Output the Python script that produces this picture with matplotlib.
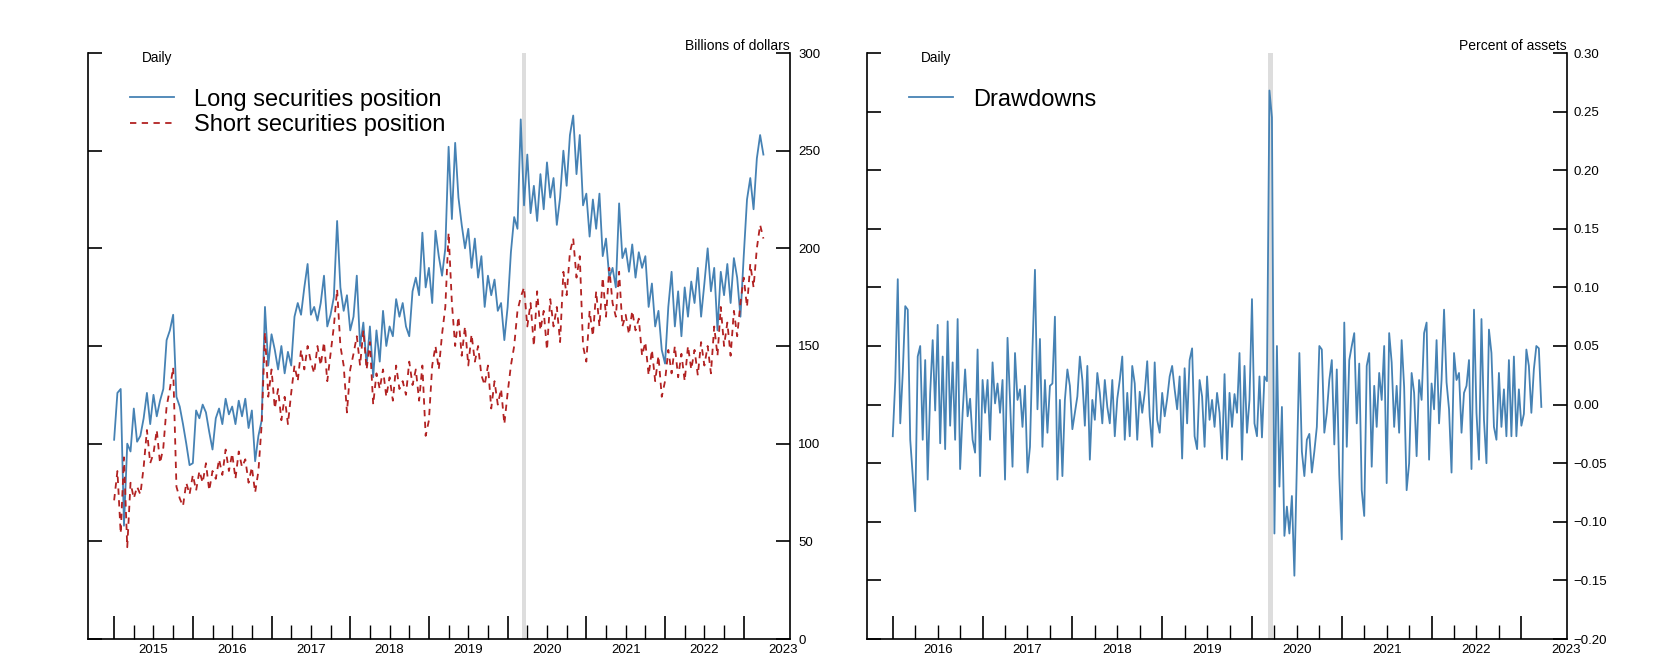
import numpy as np
import matplotlib
matplotlib.use("Agg")
import matplotlib.pyplot as plt

plt.rcParams['font.family'] = ['Liberation Sans', 'DejaVu Sans']

# ---------------- data (semi-monthly, billions of dollars) ----------------
long_2015 = [102, 126, 128, 58, 100, 96, 118, 101, 104, 113, 126, 110, 125, 114, 122, 128, 153, 158, 166, 124, 119, 110, 100, 89]
long_2016 = [90, 117, 113, 120, 116, 106, 97, 113, 118, 110, 123, 115, 119, 110, 122, 114, 123, 108, 117, 91, 104, 112, 170, 140]
long_2017 = [156, 148, 138, 150, 136, 147, 140, 165, 172, 166, 180, 192, 166, 170, 163, 172, 186, 160, 166, 175, 214, 180, 168, 176]
long_2018 = [158, 165, 186, 150, 162, 140, 160, 134, 158, 142, 168, 150, 160, 155, 174, 165, 172, 160, 155, 178, 185, 176, 208, 180]
long_2019 = [190, 172, 209, 196, 186, 200, 252, 215, 254, 226, 212, 200, 210, 190, 205, 185, 196, 170, 186, 176, 184, 168, 172, 153]
long_2020 = [170, 198, 216, 210, 266, 222, 248, 218, 232, 214, 238, 220, 244, 226, 236, 212, 226, 250, 232, 258, 268, 238, 258, 222]
long_2021 = [228, 206, 225, 210, 228, 196, 205, 185, 190, 180, 223, 195, 200, 188, 202, 185, 198, 190, 196, 170, 182, 160, 168, 148]
long_2022 = [141, 170, 188, 160, 178, 155, 180, 165, 183, 172, 190, 165, 182, 200, 178, 190, 158, 188, 176, 192, 172, 195, 185, 165]
long_2023 = [196, 225, 236, 220, 246, 258, 248]

short_2015 = [71, 86, 54, 93, 47, 80, 72, 78, 74, 88, 107, 90, 95, 107, 90, 98, 119, 128, 139, 78, 72, 68, 80, 74]
short_2016 = [84, 76, 86, 80, 90, 76, 86, 82, 92, 84, 97, 86, 95, 82, 96, 88, 92, 80, 88, 75, 86, 110, 157, 124]
short_2017 = [138, 118, 128, 112, 124, 110, 126, 140, 132, 148, 138, 150, 142, 136, 150, 140, 152, 132, 146, 160, 179, 150, 140, 116]
short_2018 = [138, 146, 155, 140, 158, 138, 152, 120, 136, 128, 138, 124, 134, 122, 140, 128, 132, 125, 142, 130, 138, 122, 140, 104]
short_2019 = [112, 140, 150, 138, 156, 170, 208, 172, 150, 165, 145, 160, 140, 156, 142, 150, 135, 130, 140, 118, 132, 120, 128, 110]
short_2020 = [126, 140, 150, 168, 175, 180, 160, 172, 150, 178, 158, 168, 148, 174, 160, 170, 152, 188, 176, 198, 205, 185, 196, 150]
short_2021 = [142, 168, 155, 178, 160, 185, 165, 190, 172, 165, 188, 160, 166, 156, 168, 158, 164, 145, 152, 135, 148, 132, 145, 124]
short_2022 = [132, 148, 136, 150, 134, 146, 132, 150, 138, 148, 135, 152, 140, 150, 136, 160, 145, 170, 150, 162, 145, 168, 155, 172]
short_2023 = [185, 170, 192, 180, 200, 212, 205]

# ---------------- data (every ~10 days, percent of assets) ----------------
dd_2016 = [-0.027, 0.020, 0.107, -0.016, 0.027, 0.084, 0.081, -0.030, -0.061, -0.091, 0.041, 0.050,
           -0.030, 0.038, -0.064, 0.010, 0.055, -0.005, 0.068, -0.033, 0.041, -0.038, 0.071, -0.018,
           0.036, -0.030, 0.073, -0.055, -0.007, 0.030, -0.010, 0.005, -0.030, -0.041, 0.047, -0.061]
dd_2017 = [0.021, -0.007, 0.021, -0.030, 0.036, 0.001, 0.018, -0.007, 0.021, -0.064, 0.057, 0.004,
           -0.053, 0.044, 0.004, 0.013, -0.019, 0.016, -0.058, -0.036, 0.047, 0.115, -0.004, 0.056,
           -0.036, 0.021, -0.024, 0.016, 0.018, 0.075, -0.064, 0.004, -0.061, 0.004, 0.030, 0.016]
dd_2018 = [-0.021, -0.007, 0.007, 0.041, 0.021, -0.018, 0.033, -0.047, 0.004, -0.013, 0.027, 0.010,
           -0.016, 0.021, -0.002, -0.016, 0.021, -0.027, 0.005, 0.021, 0.041, -0.030, 0.010, -0.027,
           0.033, 0.018, -0.030, 0.011, -0.007, 0.010, 0.037, -0.010, -0.036, 0.036, -0.013, -0.024]
dd_2019 = [0.010, -0.010, 0.005, 0.024, 0.033, 0.013, -0.004, 0.024, -0.046, 0.031, -0.016, 0.038,
           0.048, -0.027, -0.038, 0.021, 0.007, -0.036, 0.024, -0.013, 0.004, -0.019, 0.010, -0.007,
           -0.046, 0.026, -0.047, 0.010, -0.019, 0.009, -0.007, 0.044, -0.047, 0.033, -0.024, 0.004]
dd_2020 = [0.090, -0.016, -0.027, 0.024, -0.028, 0.024, 0.020, 0.268, 0.245, -0.110, 0.050, -0.070,
           -0.002, -0.112, -0.087, -0.110, -0.078, -0.146, -0.050, 0.044, -0.040, -0.061, -0.030, -0.025,
           -0.058, -0.040, -0.019, 0.050, 0.047, -0.024, -0.007, 0.021, 0.038, -0.034, 0.030, -0.060]
dd_2021 = [-0.115, 0.070, -0.036, 0.038, 0.050, 0.061, -0.016, 0.035, -0.073, -0.095, 0.033, 0.044,
           -0.053, 0.016, -0.019, 0.027, 0.004, 0.050, -0.067, 0.061, 0.036, -0.019, 0.016, -0.024,
           0.055, 0.015, -0.073, -0.050, 0.027, 0.010, -0.044, 0.021, 0.004, 0.061, 0.070, -0.047]
dd_2022 = [0.018, -0.004, 0.055, -0.016, 0.021, 0.081, 0.019, -0.004, -0.058, 0.044, 0.021, 0.027,
           -0.024, 0.010, 0.016, 0.038, -0.055, 0.081, -0.007, -0.047, 0.073, -0.013, -0.050, 0.064,
           0.044, -0.019, -0.030, 0.027, -0.019, 0.013, -0.027, 0.038, -0.027, 0.041, -0.027, 0.013]
dd_2023 = [-0.018, -0.008, 0.047, 0.033, -0.007, 0.030, 0.050, 0.048, -0.002]

long_position = (long_2015 + long_2016 + long_2017 + long_2018 + long_2019 +
                 long_2020 + long_2021 + long_2022 + long_2023)
short_position = (short_2015 + short_2016 + short_2017 + short_2018 + short_2019 +
                  short_2020 + short_2021 + short_2022 + short_2023)
drawdowns = dd_2016 + dd_2017 + dd_2018 + dd_2019 + dd_2020 + dd_2021 + dd_2022 + dd_2023

t_left = 2015 + np.arange(len(long_position)) / 24.0
t_right = 2016 + np.arange(len(drawdowns)) / 36.0

left_years = list(range(2015, 2024))
right_years = list(range(2016, 2024))
left_yticks = [0, 50, 100, 150, 200, 250, 300]
right_yticks = [-0.20, -0.15, -0.10, -0.05, 0.00, 0.05, 0.10, 0.15, 0.20, 0.25, 0.30]
shade_period = (2020.18, 2020.23)

BLUE = '#4682B4'
RED = '#B22222'
SHADE = '#DDDDDD'

# ---------------- figure ----------------
W, H = 1671, 659
fig = plt.figure(figsize=(W / 100, H / 100), dpi=100)


def rect(l, r, t, b):
    return [l / W, 1 - b / H, (r - l) / W, (b - t) / H]


ax1 = fig.add_axes(rect(88.4, 790, 53, 639))
ax2 = fig.add_axes(rect(867, 1567, 53, 639))


def style_axis(ax, years, xlim, yticks, ylim, yfmt, unit, ypad):
    ax.set_xlim(*xlim)
    ax.set_ylim(*ylim)
    ax.spines['top'].set_visible(False)
    for s in ['left', 'right', 'bottom']:
        ax.spines[s].set_linewidth(1.2)
        ax.spines[s].set_color('black')
    # year boundary ticks (long) and quarter ticks (short)
    ax.set_xticks(years)
    quarters = [y + q for y in years[:-1] for q in (0.25, 0.5, 0.75)]
    ax.set_xticks(quarters, minor=True)
    ax.tick_params(axis='x', which='major', direction='in', length=16.6, width=1.2,
                   labelbottom=False, color='black')
    ax.tick_params(axis='x', which='minor', direction='in', length=10, width=1.0,
                   color='black')
    # year labels centred in each year
    sec = ax.secondary_xaxis('bottom')
    sec.set_xticks([y + 0.5 for y in years], labels=[str(y) for y in years])
    sec.tick_params(length=0, pad=3.5, labelsize=9.5)
    sec.spines['bottom'].set_visible(False)
    # y ticks on both sides, labels on the right
    ax.set_yticks(yticks)
    ax.set_yticklabels([yfmt(v) for v in yticks])
    ax.tick_params(axis='y', which='major', left=True, right=True, labelleft=False,
                   labelright=True, direction='in', length=10.4, width=1.2,
                   labelsize=9.5, pad=ypad, color='black')
    ax.axvspan(*shade_period, color=SHADE, lw=0, zorder=0)
    ax.text(0.0764, 0.9915, 'Daily', transform=ax.transAxes, fontsize=9.8,
            ha='left', va='center')
    ax.text(1.0, 1.012, unit, transform=ax.transAxes, fontsize=10,
            ha='right', va='center')


style_axis(ax1, left_years, (2014.673, 2023.588), left_yticks, (0, 300),
           lambda v: f'{v:d}', 'Billions of dollars', 6)
style_axis(ax2, right_years, (2015.713, 2023.508), right_yticks, (-0.20, 0.30),
           lambda v: f'{v:.2f}'.replace('-', '\u2212'), 'Percent of assets', 4.5)

ax1.plot(t_left, long_position, color=BLUE, lw=1.3, label='Long securities position', zorder=2)
ax1.plot(t_left, short_position, color=RED, lw=1.3, ls=(0, (3.5, 3)),
         label='Short securities position', zorder=3)
ax2.plot(t_right, drawdowns, color=BLUE, lw=1.3, label='Drawdowns', zorder=2)

for ax in (ax1, ax2):
    ax.legend(loc='upper left', bbox_to_anchor=(0.06, 0.939), frameon=False,
              fontsize=17, handlelength=1.86, handletextpad=0.85,
              labelspacing=0.13, borderpad=0, borderaxespad=0)

fig.savefig('out.png', dpi=100)
